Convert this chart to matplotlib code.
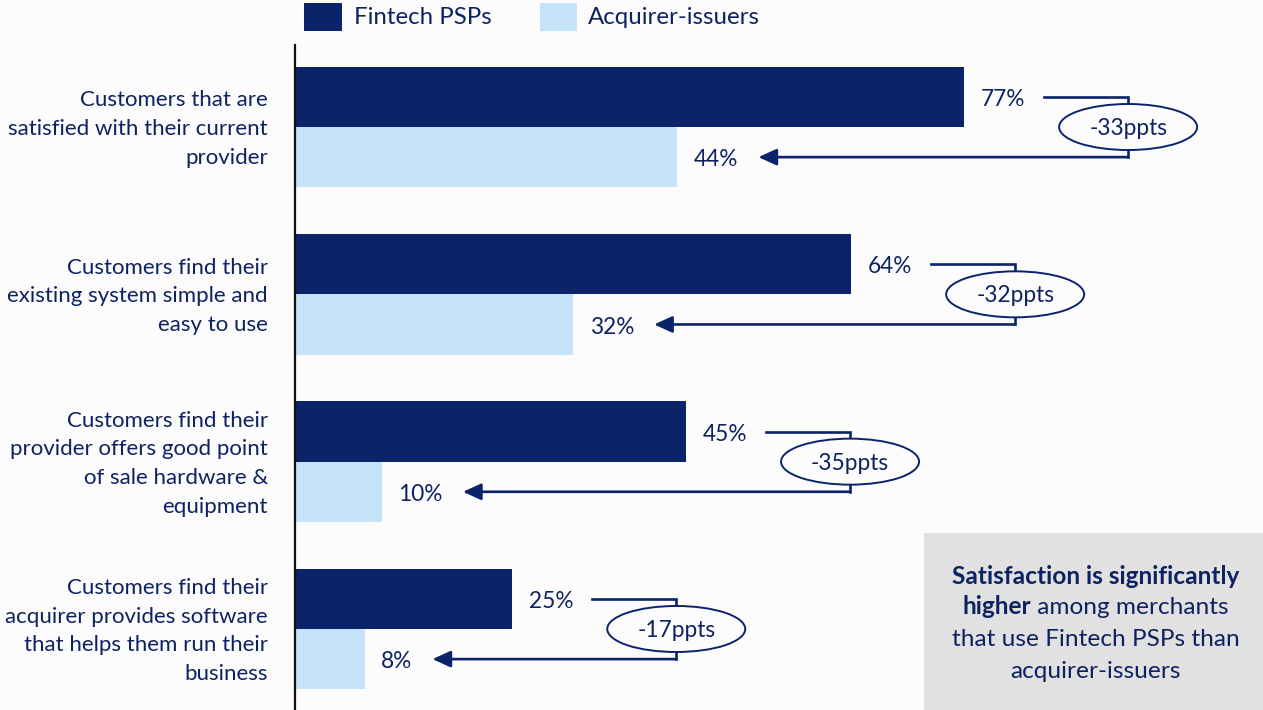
import matplotlib
matplotlib.use("Agg")
import matplotlib.pyplot as plt
from matplotlib.patches import Ellipse, Rectangle
import numpy as np

# ---- data -------------------------------------------------------------
categories = [
    "Customers that are\nsatisfied with their current\nprovider",
    "Customers find their\nexisting system simple and\neasy to use",
    "Customers find their\nprovider offers good point\nof sale hardware &\nequipment",
    "Customers find their\nacquirer provides software\nthat helps them run their\nbusiness",
]
fintech_psps = [77, 64, 45, 25]
acquirer_issuers = [44, 32, 10, 8]
series_names = ["Fintech PSPs", "Acquirer-issuers"]
callout_lines = [
    [("Satisfaction is significantly", "bold")],
    [("higher", "bold"), (" among merchants", "normal")],
    [("that use Fintech PSPs than", "normal")],
    [("acquirer-issuers", "normal")],
]

# ---- style ------------------------------------------------------------
DARK = "#0B2369"
LIGHT = "#C5E3F8"
TEXT = "#0D2260"
GREY_BOX = "#E1E1E1"
BG = "#FCFCFD"
FONT = "Lato"
plt.rcParams["font.family"] = [FONT, "DejaVu Sans"]

W, H, DPI = 1263, 710, 100
fig = plt.figure(figsize=(W / DPI, H / DPI), dpi=DPI, facecolor=BG)


def fx(px):
    return px / W


def fy(py):
    return 1 - py / H


# axes: value axis starts at the vertical rule
ax_left, ax_top = 295, 45
ax = fig.add_axes([fx(ax_left), 0, fx(W - ax_left), (H - ax_top) / H])
ax.set_facecolor("none")
px_per_unit = 8.69
ax.set_xlim(0, (W - ax_left) / px_per_unit)
group_px = 167.3
ax.set_ylim(3 + (H - 629) / group_px, -(127 - ax_top) / group_px)

for s in ["top", "right", "bottom"]:
    ax.spines[s].set_visible(False)
ax.spines["left"].set_color("#111111")
ax.spines["left"].set_linewidth(1.6)
ax.set_xticks([])
ax.set_yticks([])

y = np.arange(len(categories))
bh = 0.36
ax.barh(y - bh / 2, fintech_psps, height=bh, color=DARK, zorder=2)
ax.barh(y + bh / 2, acquirer_issuers, height=bh, color=LIGHT, zorder=2)

# category labels to the left of the rule
for yi, cat in zip(y, categories):
    ax.annotate(cat, xy=(0, yi), xytext=(-19.5, -1.5), textcoords="offset points",
                ha="right", va="center", fontsize=16, color=TEXT,
                linespacing=1.55, annotation_clip=False)

# value labels
val_fs = 16.3
dark_lbls, light_lbls = [], []
for yi, a, b in zip(y, fintech_psps, acquirer_issuers):
    dark_lbls.append(ax.annotate(f"{a}%", xy=(a, yi - bh / 2), xytext=(12, -2),
                                 textcoords="offset points", ha="left", va="center",
                                 fontsize=val_fs, color=TEXT))
    light_lbls.append(ax.annotate(f"{b}%", xy=(b, yi + bh / 2), xytext=(12, -2),
                                  textcoords="offset points", ha="left", va="center",
                                  fontsize=val_fs, color=TEXT))

fig.canvas.draw()
renderer = fig.canvas.get_renderer()
inv = ax.transData.inverted()


def right_edge_data(t):
    bb = t.get_window_extent(renderer)
    return inv.transform((bb.x1, 0))[0]


# difference connectors
gap = 18.5 / px_per_unit
ell_w = 138 / px_per_unit
ell_h = 46 / group_px
for yi, a, b, dl, ll in zip(y, fintech_psps, acquirer_issuers, dark_lbls, light_lbls):
    xc = a + 164 / px_per_unit
    y_top, y_bot = yi - bh / 2, yi + bh / 2
    x_start = right_edge_data(dl) + gap
    x_tip = right_edge_data(ll) + gap + 1.5 / px_per_unit
    ax.plot([x_start, xc, xc], [y_top, y_top, y_bot], color=DARK, lw=1.9,
            solid_joinstyle="miter", zorder=3)
    ax.annotate("", xy=(x_tip, y_bot), xytext=(xc, y_bot),
                arrowprops=dict(arrowstyle="-|>,head_length=0.55,head_width=0.25",
                                color=DARK, lw=1.9, shrinkA=0, shrinkB=0,
                                mutation_scale=20), zorder=3)
    ax.add_patch(Ellipse((xc, yi), ell_w, ell_h, facecolor=BG, edgecolor=DARK,
                         lw=1.4, zorder=4))
    ax.annotate(f"{b - a}ppts", xy=(xc, yi), xytext=(0, -1),
                textcoords="offset points", ha="center", va="center",
                fontsize=val_fs, color=TEXT, zorder=5)

# legend
legend_items = [(304, 342, DARK, series_names[0], 354),
                (540, 577, LIGHT, series_names[1], 588)]
for x0, x1, col, name, tx in legend_items:
    fig.patches.append(Rectangle((fx(x0), fy(31)), fx(x1 - x0), (31 - 3) / H,
                                 transform=fig.transFigure, facecolor=col,
                                 edgecolor="none"))
    fig.text(fx(tx), fy(18), name, ha="left", va="center", fontsize=17.3,
             color=TEXT)

# callout box
fig.patches.append(Rectangle((fx(924), 0), fx(W - 924), (H - 533) / H,
                             transform=fig.transFigure, facecolor=GREY_BOX,
                             edgecolor="none", zorder=0))
box_cx = (924 + W) / 2 + 2
line_ys = [576, 607, 639, 671]
box_fs = 17.6
for ly, parts in zip(line_ys, callout_lines):
    # measure the pieces so mixed-weight lines stay centred
    widths = []
    for txt, wt in parts:
        t = fig.text(0, 0, txt, fontsize=box_fs, fontweight=wt)
        widths.append(t.get_window_extent(renderer).width)
        t.remove()
    x = box_cx - sum(widths) / 2
    for (txt, wt), w in zip(parts, widths):
        fig.text(fx(x), fy(ly), txt, ha="left", va="center", fontsize=box_fs,
                 fontweight=wt, color=TEXT)
        x += w

fig.savefig("out.png", dpi=DPI, facecolor=BG)
